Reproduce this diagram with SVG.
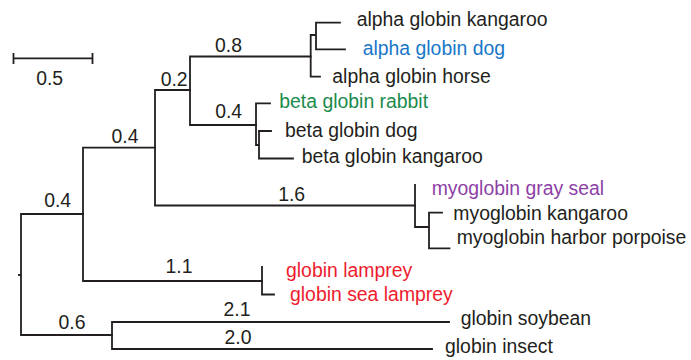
<svg xmlns="http://www.w3.org/2000/svg" width="691" height="360" viewBox="0 0 691 360">
<style>
text{font-family:"Liberation Sans",Arial,Helvetica,sans-serif;font-size:19.4px;fill:#231f20}
.lbl{text-anchor:middle}
.blue{fill:#1877c9}
.green{fill:#1b8a4c}
.purple{fill:#8d3fa6}
.red{fill:#ee1c2e}
.edge{fill:none;stroke:#231f20;stroke-width:1.8;stroke-linecap:square}
</style>
<rect width="691" height="360" fill="#fff"/>
<g id="connectors">
<path class="edge" d="M19,275H21M21,214V335M21,214H83M21,335H112"/>
<path class="edge" d="M83,147.7V281M83,147.7H155M83,281H262"/>
<path class="edge" d="M262,267V294.5H274"/>
<path class="edge" d="M112,322V349M112,322H449M112,349H432"/>
<path class="edge" d="M155,90V205.5M155,90H190M155,205.5H415"/>
<path class="edge" d="M415,185V227H429M429,212.7V248.3M429,212.7H442M429,248.3H449.5"/>
<path class="edge" d="M190,56.5V125M190,56.5H310.7M190,125H256"/>
<path class="edge" d="M256,103.3V145H259M256,103.3H270M259,131V158.5M259,131H271M259,158.5H293"/>
<path class="edge" d="M310.7,35V76.7H320M310.7,35H316M316,22.7V49.3M316,22.7H340M316,49.3H345"/>
</g>
<g id="branch-labels">
<text class="lbl" x="125" y="143.3">0.4</text>
<text class="lbl" x="174.2" y="86">0.2</text>
<text class="lbl" x="228.5" y="52">0.8</text>
<text class="lbl" x="228.7" y="118">0.4</text>
<text class="lbl" x="57.7" y="207.3">0.4</text>
<text class="lbl" x="72" y="329">0.6</text>
<text class="lbl" x="179" y="273.3">1.1</text>
<text class="lbl" x="237" y="315.7">2.1</text>
<text class="lbl" x="238" y="344">2.0</text>
<text class="lbl" x="291.7" y="201">1.6</text>
</g>
<g id="scale-bar">
<path class="edge" d="M13.5,58.3H92.5M13.5,54V63M92.5,54V63"/>
<text class="lbl" x="49.7" y="85">0.5</text>
</g>
<g id="alpha-globin-kangaroo"><text x="356.7" y="26">alpha globin kangaroo</text></g>
<g id="alpha-globin-dog"><text class="blue" x="362.7" y="55">alpha globin dog</text></g>
<g id="alpha-globin-horse"><text x="332.3" y="83.3">alpha globin horse</text></g>
<g id="beta-globin-rabbit"><text class="green" x="279.3" y="108">beta globin rabbit</text></g>
<g id="beta-globin-dog"><text x="285" y="137.3">beta globin dog</text></g>
<g id="beta-globin-kangaroo"><text x="301.7" y="163.3">beta globin kangaroo</text></g>
<g id="myoglobin-gray-seal"><text class="purple" x="431.7" y="195">myoglobin gray seal</text></g>
<g id="myoglobin-kangaroo"><text x="453.3" y="220">myoglobin kangaroo</text></g>
<g id="myoglobin-harbor-porpoise"><text x="456.7" y="244">myoglobin harbor porpoise</text></g>
<g id="globin-lamprey"><text class="red" x="286" y="277">globin lamprey</text></g>
<g id="globin-sea-lamprey"><text class="red" x="290" y="300.7">globin sea lamprey</text></g>
<g id="globin-soybean"><text x="460.7" y="325">globin soybean</text></g>
<g id="globin-insect"><text x="445" y="353">globin insect</text></g>
</svg>
